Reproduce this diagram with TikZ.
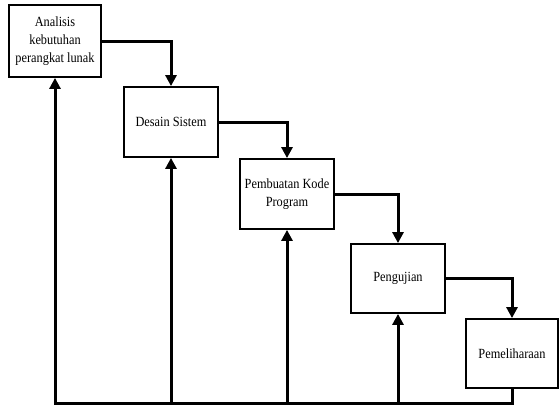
\documentclass[tikz,border=0pt]{standalone}
\usepackage{fontspec}
\setmainfont[FakeStretch=0.88]{Liberation Serif}
\usetikzlibrary{arrows.meta}
\tikzset{
  tahap/.style={draw, line width=1.8pt, fill=white, align=center, inner sep=2pt, font=\fontsize{14}{18}\selectfont},
  alur/.style={line width=3pt, -{Triangle[length=11pt,width=11pt]}},
}
\begin{document}
\begin{tikzpicture}[x=1pt, y=-1pt]
      \useasboundingbox (0,0) rectangle (560,407);
      \node[tahap, minimum width=92pt, minimum height=72pt] (analisis) at (55, 41){Analisis\\kebutuhan\\perangkat lunak};
      \node[tahap, minimum width=94pt, minimum height=70pt] (desain) at (171, 122){Desain Sistem};
      \node[tahap, minimum width=94pt, minimum height=70pt] (kode) at (287, 194){Pembuatan Kode\\Program};
      \node[tahap, minimum width=94pt, minimum height=69pt] (uji) at (398, 278.5){Pengujian};
      \node[tahap, minimum width=92pt, minimum height=69pt] (pelihara) at (512, 353.5){Pemeliharaan};
      \coordinate (dasar) at (0, 403);
      \draw[alur](analisis.east) -| (desain.north);
      \draw[alur](desain.east) -| (kode.north);
      \draw[alur](kode.east) -| (uji.north);
      \draw[alur](uji.east) -| (pelihara.north);
      \draw[alur](pelihara.south) |- (analisis.south |- dasar) -- (analisis.south);
      \draw[alur](desain.south |- dasar) -- (desain.south);
      \draw[alur](kode.south |- dasar) -- (kode.south);
      \draw[alur](uji.south |- dasar) -- (uji.south);
    \end{tikzpicture}
\end{document}
